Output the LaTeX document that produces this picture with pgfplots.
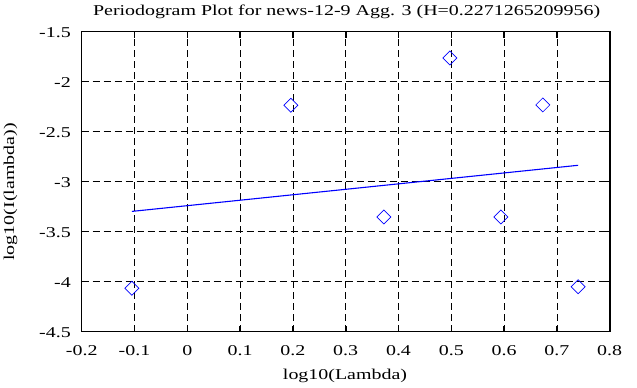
\documentclass[border=0pt]{standalone}
\usepackage{fontspec}
\setmainfont{Liberation Serif}[FakeStretch=1.33]
\usepackage{pgfplots}
\pgfplotsset{compat=1.18}
\definecolor{mblue}{RGB}{0,0,255}
\begin{document}
\begin{tikzpicture}
\path[use as bounding box] (-81.7pt,-55.4pt) rectangle (555.3pt,331.7pt);
\begin{axis}[
  at={(0pt,0pt)}, anchor=south west,
  scale only axis, width=528pt, height=300pt,
  xmin=-0.2, xmax=0.8, ymin=-4.5, ymax=-1.5,
  xtick={-0.2,-0.1,0,0.1,0.2,0.3,0.4,0.5,0.6,0.7,0.8},
  ytick={-4.5,-4,-3.5,-3,-2.5,-2,-1.5},
  /pgf/number format/assume math mode=true,
  /pgf/number format/fixed,
  tick align=inside,
  major tick length=6pt,
  tick style={black, line width=1.6pt},
  axis line style={line width=1.6pt},
  grid=major,
  major grid style={black, line width=0.8pt, dash pattern=on 7pt off 4pt},
  every tick label/.append style={font=\fontsize{15}{18}\selectfont, inner sep=0pt},
  xticklabel style={anchor=base, yshift=-23.4pt},
  yticklabel style={anchor=east, xshift=-10.7pt, yshift=-1.3pt},
  title={Periodogram Plot for news-12-9 Agg. 3 (H=0.2271265209956)},
  title style={font=\fontsize{15}{18}\selectfont, anchor=base, at={(axis description cs:0.5018,1.0353)}, inner sep=0pt},
  xlabel={log10(Lambda)},
  xlabel style={font=\fontsize{15}{18}\selectfont, anchor=base, at={(axis description cs:0.4987,-0.161)}, inner sep=0pt},
  ylabel={log10(I(lambda))},
  ylabel style={font=\fontsize{15}{18}\selectfont, anchor=center, at={(axis description cs:-0.135,0.466)}, inner sep=0pt},
]
\addplot[only marks, mark=square, mark size=4.95pt, mark options={rotate=45, draw=mblue, line width=0.7pt, fill=none}]
coordinates {
(-0.1049,-4.066) (0.1961,-2.236) (0.3722,-3.353) (0.4971,-1.763)
(0.5940,-3.353) (0.6732,-2.233) (0.7402,-4.050)
};
\addplot[mblue, line width=1.1pt, no marks] coordinates {(-0.1049,-3.297) (0.7402,-2.836)};
\end{axis}
\end{tikzpicture}
\end{document}
